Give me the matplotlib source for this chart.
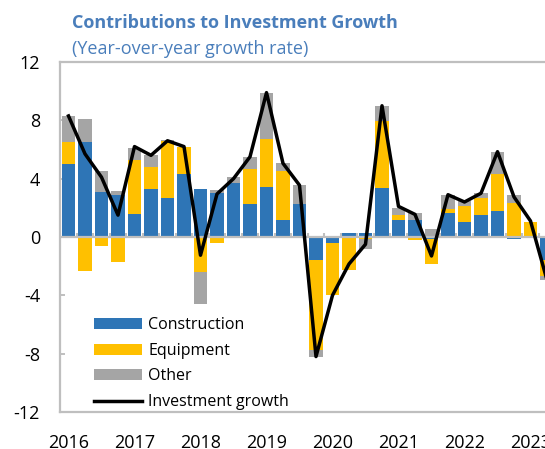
import numpy as np
import matplotlib
matplotlib.use("Agg")
import matplotlib.pyplot as plt
from matplotlib.lines import Line2D
from matplotlib.patches import Patch

plt.rcParams['font.family'] = ['Open Sans', 'DejaVu Sans']

# ---- data (quarterly, 2016Q1 - 2023Q2) ----
years = ['2016', '2017', '2018', '2019', '2020', '2021', '2022', '2023']
construction = [5.0, 6.5, 3.1, 2.9, 1.6, 3.3, 2.7, 4.3,
                3.3, 3.05, 3.7, 2.25, 3.4, 1.2, 2.25, -1.55,
                -0.4, 0.3, 0.3, 3.35, 1.2, 1.15, -0.15, 1.65,
                1.0, 1.5, 1.75, -0.15, 0.0, -1.6]
equipment = [1.5, -2.3, -0.6, -1.7, 3.7, 1.5, 3.9, 1.85,
             -2.4, -0.4, 0.0, 2.4, 3.3, 3.3, 0.0, -6.2,
             -3.55, -2.25, -0.15, 4.6, 0.3, -0.2, -1.7, 0.3,
             1.15, 1.2, 2.6, 2.3, 1.05, -1.05]
other = [1.8, 1.6, 1.4, 0.25, 0.8, 0.85, 0.05, 0.0,
         -2.2, 0.2, 0.4, 0.85, 3.2, 0.55, 1.3, -0.5,
         0.0, 0.0, -0.7, 1.0, 0.5, 0.5, 0.55, 0.9,
         0.3, 0.3, 1.5, 0.55, 0.0, -0.3]
growth = [8.3, 5.7, 4.1, 1.5, 6.2, 5.6, 6.6, 6.2,
          -1.25, 2.95, 4.0, 5.5, 9.9, 5.05, 3.55, -8.2,
          -4.0, -1.85, -0.5, 9.0, 2.1, 1.55, -1.3, 2.9,
          2.4, 3.0, 5.85, 2.75, 1.1, -2.95]

series = [('Construction', construction, '#2E75B6'),
          ('Equipment', equipment, '#FFC000'),
          ('Other', other, '#A5A5A5')]

n = len(growth)
x = np.arange(n)
grid_col = '#BFBFBF'
title_col = '#4A7EBB'

fig = plt.figure(figsize=(5.45, 4.49), dpi=100)
ax = fig.add_axes([60.25 / 545, 37 / 449, 495 / 545, 350 / 449])

pos = np.zeros(n)
neg = np.zeros(n)
for name, vals, col in series:
    v = np.array(vals, dtype=float)
    bottom = np.where(v >= 0, pos, neg)
    ax.bar(x, v, width=0.79, bottom=bottom, color=col, linewidth=0, zorder=2)
    pos = np.where(v >= 0, pos + v, pos)
    neg = np.where(v < 0, neg + v, neg)

ax.plot(x, growth, color='black', lw=2.5, zorder=4, solid_joinstyle='round')

# zero axis line with category tick marks
ax.axhline(0, color=grid_col, lw=1.6, zorder=3)
ax.vlines(np.arange(-0.5, n), 0, 0.3, color=grid_col, lw=1.5, zorder=3)

ax.set_xlim(-0.5, n - 0.5)
ax.set_ylim(-12, 12)
ax.set_yticks(np.arange(-12, 13, 4))
ax.set_yticklabels([str(v) for v in range(-12, 13, 4)])
ax.set_xticks(np.arange(0, n, 4))
ax.set_xticklabels(years)

for s in ['left', 'top', 'bottom']:
    ax.spines[s].set_color(grid_col)
    ax.spines[s].set_linewidth(1.6)
ax.spines['right'].set_visible(False)

ax.tick_params(axis='y', direction='in', length=3.6, width=1.4, color=grid_col,
               labelsize=13, pad=14.5, labelcolor='black')
ax.tick_params(axis='x', length=0, labelsize=13, pad=15.5, labelcolor='black')

handles = [Patch(facecolor=c, edgecolor='none') for _, _, c in series]
handles.append(Line2D([0], [0], color='black', lw=2.5))
labels = [s[0] for s in series] + ['Investment growth']
fig.legend(handles, labels, loc='upper left', bbox_to_anchor=(94 / 545, 1 - 317 / 449),
           frameon=False, fontsize=11.5, borderpad=0, borderaxespad=0,
           handlelength=3.0, handleheight=0.7, handletextpad=0.4, labelspacing=0.61)

fig.text(72 / 545, 1 - 27.5 / 449, 'Contributions to Investment Growth', color=title_col,
         fontsize=13, fontweight='bold', ha='left', va='baseline')
fig.text(72 / 545, 1 - 53.5 / 449, '(Year-over-year growth rate)', color=title_col,
         fontsize=13, ha='left', va='baseline')

fig.savefig('out.png', dpi=100)
